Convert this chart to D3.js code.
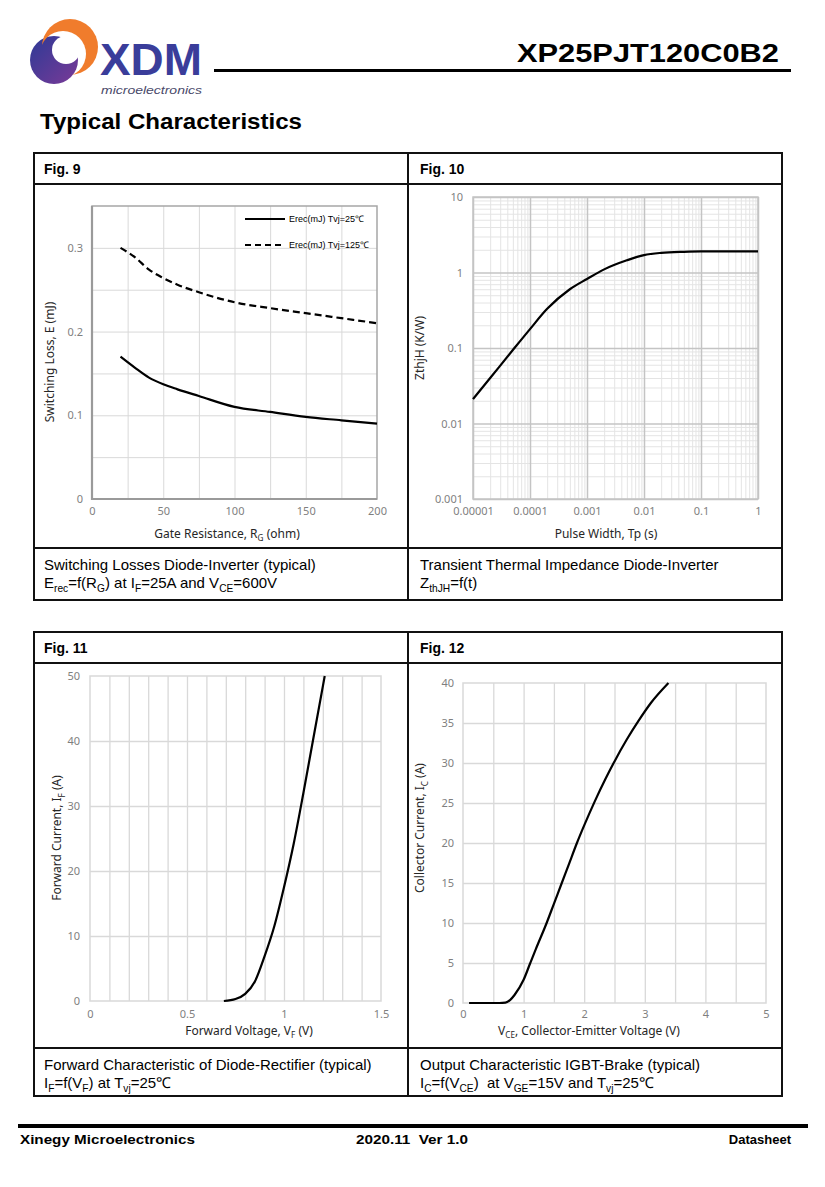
<!DOCTYPE html>
<html>
<head>
<meta charset="utf-8">
<script src="https://cdn.jsdelivr.net/npm/d3@7"></script>
<style>
  body { margin: 0; background: #fff; }
  svg { display: block; font-family: "Liberation Sans", Arial, sans-serif; }
  text { white-space: pre; }
</style>
</head>
<body>
<svg width="825" height="1187"></svg>
<script>
// Fig. 9 - switching losses vs gate resistance
const rg = [20, 30, 40, 50, 60, 75, 100, 125, 150, 175, 200];
const erec25 = [0.170, 0.157, 0.145, 0.137, 0.131, 0.123, 0.110, 0.104, 0.098, 0.094, 0.090];
const erec125 = [0.300, 0.289, 0.274, 0.264, 0.256, 0.247, 0.235, 0.228, 0.222, 0.216, 0.210];
const fig9Legend = ["Erec(mJ) Tvj=25℃", "Erec(mJ) Tvj=125℃"];

// Fig. 10 - transient thermal impedance
const tp = [1e-5, 2e-5, 5e-5, 1e-4, 2e-4, 5e-4, 1e-3, 2e-3, 5e-3, 1e-2, 2e-2, 5e-2, 1e-1, 1];
const zth = [0.021, 0.040, 0.094, 0.178, 0.33, 0.60, 0.82, 1.10, 1.45, 1.70, 1.82, 1.88, 1.90, 1.90];

// Fig. 11 - diode forward characteristic
const vf = [0.69, 0.75, 0.80, 0.85, 0.90, 0.95, 1.00, 1.05, 1.10, 1.15, 1.21];
const ifw = [0, 0.3, 1.1, 3.0, 6.9, 11.5, 17.5, 24.2, 32.0, 40.2, 50];

// Fig. 12 - IGBT output characteristic
const vce = [0.1, 0.6, 0.7, 0.78, 0.85, 1.0, 1.11, 1.2, 1.38, 1.5, 1.63, 1.75, 1.88, 2.0, 2.18, 2.35, 2.5, 2.7, 2.89, 3.1, 3.39];
const ic = [0, 0, 0.05, 0.4, 1.0, 2.9, 5.0, 6.7, 10.0, 12.4, 15.0, 17.4, 20.0, 22.2, 25.3, 28.0, 30.2, 32.9, 35.2, 37.5, 40.0];

// tick labels
const fig9XTicks = [0, 50, 100, 150, 200];
const fig9YTicks = [0, 0.1, 0.2, 0.3];
const fig10XTicks = [1e-5, 1e-4, 1e-3, 1e-2, 1e-1, 1];
const fig10XLabels = ["0.00001", "0.0001", "0.001", "0.01", "0.1", "1"];
const fig10YTicks = [0.001, 0.01, 0.1, 1, 10];
const fig10YLabels = ["0.001", "0.01", "0.1", "1", "10"];
const fig11XTicks = [0, 0.5, 1, 1.5];
const fig11YTicks = [0, 10, 20, 30, 40, 50];
const fig12XTicks = [0, 1, 2, 3, 4, 5];
const fig12YTicks = [0, 5, 10, 15, 20, 25, 30, 35, 40];

const svg = d3.select("svg");
const defs = svg.append("defs");

// text with _{sub} markup
function rich(sel, str, size) {
  let shifted = false;
  str.split(/(_\{[^}]*\})/).forEach(p => {
    if (!p) return;
    if (p.startsWith("_{")) {
      sel.append("tspan").attr("font-size", size * 0.68).attr("dy", size * 0.28).text(p.slice(2, -1));
      shifted = true;
    } else {
      const t = sel.append("tspan").text(p);
      if (shifted) t.attr("dy", -size * 0.28);
      shifted = false;
    }
  });
  return sel;
}

// ---------- header ----------
const grad = defs.append("linearGradient").attr("id", "lg")
  .attr("x1", 0).attr("y1", 0).attr("x2", 1).attr("y2", 1);
grad.append("stop").attr("offset", "0%").attr("stop-color", "#2a3a96");
grad.append("stop").attr("offset", "100%").attr("stop-color", "#7d3a97");
const mBlue = defs.append("mask").attr("id", "mb");
mBlue.append("circle").attr("cx", 54).attr("cy", 60).attr("r", 24).attr("fill", "#fff");
mBlue.append("circle").attr("cx", 66).attr("cy", 50).attr("r", 14).attr("fill", "#000");
const mOrange = defs.append("mask").attr("id", "mo");
mOrange.append("circle").attr("cx", 70).attr("cy", 47).attr("r", 28).attr("fill", "#fff");
mOrange.append("circle").attr("cx", 63).attr("cy", 54).attr("r", 23).attr("fill", "#000");

const logo = svg.append("g");
logo.append("rect").attr("x", 28).attr("y", 34).attr("width", 52).attr("height", 52)
  .attr("fill", "url(#lg)").attr("mask", "url(#mb)");
logo.append("rect").attr("x", 40).attr("y", 17).attr("width", 60).attr("height", 60)
  .attr("fill", "#f07c2c").attr("mask", "url(#mo)");

svg.append("text").attr("transform", "translate(100,75) scale(1,1.12)").attr("font-size", 40).attr("font-weight", "bold")
  .attr("fill", "#3a3d9a").attr("textLength", 102).attr("lengthAdjust", "spacingAndGlyphs").text("XDM");
svg.append("text").attr("x", 101).attr("y", 93.5).attr("font-size", 10).attr("font-style", "italic")
  .attr("fill", "#4a4a6a").attr("textLength", 101).attr("lengthAdjust", "spacingAndGlyphs").text("microelectronics");

svg.append("text").attr("x", 517).attr("y", 62).attr("font-size", 26).attr("font-weight", "bold")
  .attr("textLength", 262).attr("lengthAdjust", "spacingAndGlyphs").text("XP25PJT120C0B2");
svg.append("line").attr("x1", 214).attr("x2", 791).attr("y1", 70.5).attr("y2", 70.5)
  .attr("stroke", "#000").attr("stroke-width", 3);
svg.append("text").attr("x", 40).attr("y", 129).attr("font-size", 22).attr("font-weight", "bold")
  .attr("textLength", 262).attr("lengthAdjust", "spacingAndGlyphs").text("Typical Characteristics");

// ---------- tables ----------
function table(top, headY, chartY, bottom, figs, caps) {
  const t = svg.append("g").attr("fill", "none").attr("stroke", "#111").attr("stroke-width", 2);
  t.append("rect").attr("x", 34).attr("y", top).attr("width", 748).attr("height", bottom - top);
  t.append("line").attr("x1", 34).attr("x2", 782).attr("y1", headY).attr("y2", headY);
  t.append("line").attr("x1", 34).attr("x2", 782).attr("y1", chartY).attr("y2", chartY);
  t.append("line").attr("x1", 408).attr("x2", 408).attr("y1", top).attr("y2", bottom);
  [44, 420].forEach((x, i) => {
    svg.append("text").attr("x", x).attr("y", top + 21).attr("font-size", 14).attr("font-weight", "bold").text(figs[i]);
    caps[i].forEach((c, j) => {
      rich(svg.append("text").attr("x", x).attr("y", chartY + 22 + j * 17.5).attr("font-size", 15), c, 15);
    });
  });
}
table(153, 184, 548, 600, ["Fig. 9", "Fig. 10"], [
  ["Switching Losses Diode-Inverter (typical)", "E_{rec}=f(R_{G}) at I_{F}=25A and V_{CE}=600V"],
  ["Transient Thermal Impedance Diode-Inverter", "Z_{thJH}=f(t)"]
]);
table(632, 663, 1048, 1096, ["Fig. 11", "Fig. 12"], [
  ["Forward Characteristic of Diode-Rectifier (typical)", "I_{F}=f(V_{F}) at T_{vj}=25℃"],
  ["Output Characteristic IGBT-Brake (typical)", "I_{C}=f(V_{CE})  at V_{GE}=15V and T_{vj}=25℃"]
]);

// ---------- chart helpers ----------
function grid(g, x, y, xs, ys, color, width) {
  const [x0, x1] = x.range(), [y0, y1] = y.range();
  g.append("g").attr("transform", `translate(0,${y0})`)
    .call(d3.axisBottom(x).tickValues(xs).tickSize(-(y0 - y1)).tickFormat(""))
    .call(a => a.select(".domain").remove())
    .selectAll("line").attr("stroke", color).attr("stroke-width", width);
  g.append("g").attr("transform", `translate(${x0},0)`)
    .call(d3.axisLeft(y).tickValues(ys).tickSize(-(x1 - x0)).tickFormat(""))
    .call(a => a.select(".domain").remove())
    .selectAll("line").attr("stroke", color).attr("stroke-width", width);
}
function ticks(g, x, y, o) {
  const [x0] = x.range(), [y0] = y.range();
  const style = s => s.call(a => a.select(".domain").remove())
    .selectAll("text").attr("font-family", "'Noto Sans', sans-serif").attr("font-size", 11).attr("fill", "#7f7f7f");
  g.append("g").attr("transform", `translate(0,${y0})`)
    .call(d3.axisBottom(x).tickValues(o.xt).tickFormat(o.xf || (d => String(d))).tickSize(0).tickPadding(o.px))
    .call(style);
  g.append("g").attr("transform", `translate(${x0},0)`)
    .call(d3.axisLeft(y).tickValues(o.yt).tickFormat(o.yf || (d => String(d))).tickSize(0).tickPadding(o.py))
    .call(style);
}
function frame(g, x, y, color, width) {
  const [x0, x1] = x.range(), [y0, y1] = y.range();
  g.append("rect").attr("x", x0).attr("y", y1).attr("width", x1 - x0).attr("height", y0 - y1)
    .attr("fill", "none").attr("stroke", color).attr("stroke-width", width);
}
function titles(g, xt, xx, xy, yt, yx, yy) {
  rich(g.append("text").attr("x", xx).attr("y", xy).attr("text-anchor", "middle")
    .attr("font-family", "'Noto Sans', sans-serif").attr("font-size", 12).attr("fill", "#262626"), xt, 12);
  rich(g.append("text").attr("transform", `translate(${yx},${yy}) rotate(-90)`).attr("text-anchor", "middle")
    .attr("dy", "0.35em").attr("font-family", "'Noto Sans', sans-serif").attr("font-size", 12).attr("fill", "#262626"), yt, 12);
}
function curve(g, x, y, xs, ys, dash) {
  g.append("path").datum(xs.map((d, i) => [d, ys[i]]))
    .attr("fill", "none").attr("stroke", "#000").attr("stroke-width", 2.2)
    .attr("stroke-dasharray", dash || null)
    .attr("d", d3.line().x(d => x(d[0])).y(d => y(d[1])).curve(d3.curveMonotoneX));
}

// ---------- Fig. 9 ----------
{
  const g = svg.append("g");
  const x = d3.scaleLinear().domain([0, 200]).range([92, 377]);
  const y = d3.scaleLinear().domain([0, 0.35]).range([499, 206]);
  grid(g, x, y, d3.range(25, 200, 25), d3.range(0.05, 0.349, 0.05), "#d9d9d9", 1);
  frame(g, x, y, "#a6a6a6", 1.5);
  g.append("path").attr("d", `M${x(0)},${y(0.35)}V${y(0)}H${x(200)}`).attr("fill", "none").attr("stroke", "#9a9a9a").attr("stroke-width", 2.2);
  ticks(g, x, y, { xt: fig9XTicks, yt: fig9YTicks, px: 8, py: 9 });
  titles(g, "Gate Resistance, R_{G} (ohm)", 227, 538, "Switching Loss, E (mJ)", 50, 362);
  curve(g, x, y, rg, erec25);
  curve(g, x, y, rg, erec125, "7,4");
  const lg = g.append("g");
  fig9Legend.forEach((t, i) => {
    const ly = 219 + i * 26;
    lg.append("line").attr("x1", 245).attr("x2", 285).attr("y1", ly).attr("y2", ly)
      .attr("stroke", "#000").attr("stroke-width", 2).attr("stroke-dasharray", i ? "6,4" : null);
    lg.append("text").attr("x", 289).attr("y", ly).attr("dy", "0.35em").attr("font-size", 9).text(t);
  });
}

// ---------- Fig. 10 ----------
{
  const g = svg.append("g");
  const x = d3.scaleLog().domain([1e-5, 1]).range([473, 758]);
  const y = d3.scaleLog().domain([0.001, 10]).range([499, 197]);
  const minorX = [], minorY = [];
  for (let e = -5; e < 0; e++) for (let k = 2; k < 10; k++) minorX.push(k * Math.pow(10, e));
  for (let e = -3; e < 1; e++) for (let k = 2; k < 10; k++) minorY.push(k * Math.pow(10, e));
  grid(g, x, y, minorX, minorY, "#e4e4e4", 1);
  grid(g, x, y, fig10XTicks, fig10YTicks, "#c4c4c4", 1.5);
  frame(g, x, y, "#c4c4c4", 1.5);
  ticks(g, x, y, {
    xt: fig10XTicks, yt: fig10YTicks, px: 8, py: 10,
    xf: (d, i) => fig10XLabels[i], yf: (d, i) => fig10YLabels[i]
  });
  titles(g, "Pulse Width, Tp (s)", 606, 538, "ZthjH (K/W)", 420, 348);
  curve(g, x, y, tp, zth);
}

// ---------- Fig. 11 ----------
{
  const g = svg.append("g");
  const x = d3.scaleLinear().domain([0, 1.5]).range([90, 381]);
  const y = d3.scaleLinear().domain([0, 50]).range([1001, 676]);
  grid(g, x, y, d3.range(1, 15).map(d => d / 10), [10, 20, 30, 40], "#d9d9d9", 1.3);
  frame(g, x, y, "#d9d9d9", 1.5);
  ticks(g, x, y, { xt: fig11XTicks, yt: fig11YTicks, px: 9, py: 10 });
  titles(g, "Forward Voltage, V_{F} (V)", 249, 1035, "Forward Current, I_{F} (A)", 57, 838);
  curve(g, x, y, vf, ifw);
}

// ---------- Fig. 12 ----------
{
  const g = svg.append("g");
  const x = d3.scaleLinear().domain([0, 5]).range([463, 766]);
  const y = d3.scaleLinear().domain([0, 40]).range([1003, 683]);
  grid(g, x, y, d3.range(1, 10).map(d => d / 2), d3.range(5, 40, 5), "#d9d9d9", 1.3);
  frame(g, x, y, "#d9d9d9", 1.5);
  ticks(g, x, y, { xt: fig12XTicks, yt: fig12YTicks, px: 7, py: 9 });
  titles(g, "V_{CE}, Collector-Emitter Voltage (V)", 589, 1035, "Collector Current, I_{C} (A)", 420, 828);
  curve(g, x, y, vce, ic);
}

// ---------- footer ----------
svg.append("line").attr("x1", 18).attr("x2", 808).attr("y1", 1126).attr("y2", 1126)
  .attr("stroke", "#000").attr("stroke-width", 4);
svg.append("text").attr("x", 20).attr("y", 1144).attr("font-size", 13).attr("font-weight", "bold")
  .attr("textLength", 175).attr("lengthAdjust", "spacingAndGlyphs").text("Xinegy Microelectronics");
svg.append("text").attr("x", 356).attr("y", 1144).attr("font-size", 13).attr("font-weight", "bold")
  .attr("textLength", 112).attr("lengthAdjust", "spacingAndGlyphs").text("2020.11  Ver 1.0");
svg.append("text").attr("x", 791).attr("y", 1144).attr("font-size", 13).attr("font-weight", "bold")
  .attr("text-anchor", "end").text("Datasheet");
</script>
</body>
</html>
